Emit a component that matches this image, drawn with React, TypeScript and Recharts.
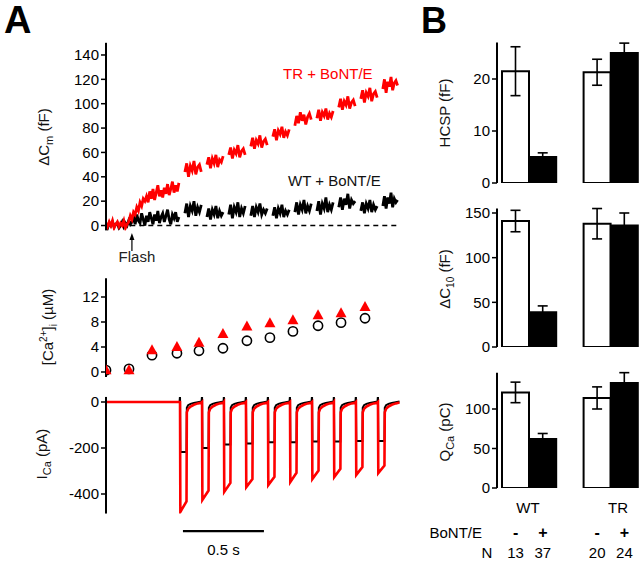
import React from "react";
import {
  ComposedChart,
  Line,
  Scatter,
  XAxis,
  YAxis,
  ReferenceLine,
  BarChart,
  Bar,
  Cell,
  ErrorBar,
} from "recharts";

const FONT = '"Liberation Sans", Arial, Helvetica, sans-serif';
const RED = "#ff0000";

// ---- panel A: shared time base (s) ----
const T_END = 1.815;
const pulseOnsets = [0.457, 0.593, 0.728, 0.864, 1.0, 1.136, 1.272, 1.407, 1.543, 1.679];
const flashTime = 0.16;
const CM_STEP = 0.01;
const CM_END = 1.805;

// ΔCm (fF), continuous record before the pulse train
const trCmPre = [
  2, -1, 3, 0, 4, -2, 1, 3, -1, 2, 0, 4, -2, 1,
  3, 8, 5, 11, 9, 15, 12, 19, 16, 22, 20,
  24, 19, 28, 22, 30, 21, 27, 33, 24, 29, 23, 31, 26, 34, 25, 30, 36, 27, 33, 28, 35,
];
const wtCmPre = [
  1, -2, 2, 0, 3, -1, 1, 2, -2, 0, 3, -1, 2, 0, 4, 1,
  3, 7, 1, 9, 4, 2, 10, 5, 0, 8, 3, 11, 6, 1, 9, 4, 12, 2, 7, 10, 3, 8, 13, 5, 1, 9, 6, 11, 3, 7,
];
// ΔCm between depolarizations
const trCmSegs = [
  [44, 51, 40, 49, 45, 53, 42, 48, 50, 44],
  [50, 56, 47, 55, 51, 58, 48, 54, 52, 57],
  [58, 64, 55, 62, 59, 66, 56, 61, 63, 58],
  [65, 72, 63, 70, 67, 74, 64, 69, 71, 66],
  [73, 79, 70, 78, 75, 81, 72, 77, 74, 79],
  [82, 90, 84, 93, 86, 91, 83, 89, 92, 87],
  [88, 95, 86, 93, 90, 96, 87, 92, 89, 94],
  [97, 104, 95, 102, 99, 106, 96, 101, 103, 98],
  [104, 111, 101, 109, 106, 113, 102, 108, 110, 105],
  [112, 120, 109, 118, 114, 122, 111, 117, 119, 115],
];
const wtCmSegs = [
  [10, 18, 7, 16, 12, 20, 8, 15, 11, 17],
  [7, 14, 5, 13, 9, 16, 6, 12, 8, 11],
  [9, 17, 6, 15, 11, 19, 7, 14, 10, 16],
  [8, 16, 7, 15, 11, 18, 9, 13, 10, 14],
  [8, 15, 6, 14, 10, 17, 7, 12, 9, 13],
  [11, 19, 9, 17, 13, 21, 10, 16, 12, 18],
  [12, 20, 9, 18, 14, 23, 11, 17, 13, 19],
  [15, 23, 13, 22, 17, 26, 14, 21, 18, 20],
  [12, 19, 10, 18, 14, 21, 11, 17, 13, 16],
  [16, 24, 14, 23, 18, 27, 15, 22, 19, 21],
];

// [Ca2+]i (µM)
const caTime = [0, 0.142, 0.284, 0.438, 0.574, 0.722, 0.87, 1.012, 1.154, 1.309, 1.451, 1.599];
const caTR = [0.3, 0.3, 3.5, 4.0, 4.7, 6.1, 7.3, 7.8, 8.3, 9.1, 9.4, 10.4];
const caWT = [0.3, 0.5, 2.7, 3.0, 3.4, 3.8, 5.0, 5.5, 6.5, 7.4, 7.9, 8.6];

// ICa (pA)
const icaPeakTR = [-478, -426, -391, -370, -361, -348, -335, -326, -317, -309];
const icaEndTR = [-432, -385, -352, -335, -325, -308, -298, -290, -283, -276];
const icaWT = [-217, -200, -185, -180, -175, -175, -172, -172, -170, -170];
const PULSE_DUR = 0.04;
const tailOffsets = [0.042, 0.05, 0.065, 0.085, 0.11, 0.133];
const icaTailTR = [-45, -30, -20, -12, -6, -2];
const icaTailWT = [-25, -14, -8, -4, -1, 2];
const icaSpikeWT = 28;

// ---- panel B ----
const conds = ["WT-", "WT+", "TR-", "TR+"];
const bont = ["-", "+", "-", "+"];
const nCells = [13, 37, 20, 24];
const hcspMean = [21.5, 5.0, 21.3, 25.0];
const hcspSem = [4.7, 0.8, 2.5, 1.9];
const dc10Mean = [141, 39, 138, 136];
const dc10Sem = [12, 7, 17, 14];
const qcaMean = [121, 62, 114, 133];
const qcaSem = [13, 7, 14, 13];

// ---- tables ----
type Row = { t: number; tr: number | null; wt: number | null };

const cmRows: Row[] = [];
trCmPre.forEach((v, i) => cmRows.push({ t: i * CM_STEP, tr: v, wt: wtCmPre[i] }));
pulseOnsets.forEach((t0, k) => {
  const start = t0 + 0.03;
  const end = (k + 1 < pulseOnsets.length ? pulseOnsets[k + 1] : CM_END) - 0.005;
  cmRows.push({ t: t0, tr: null, wt: null });
  const seg = trCmSegs[k];
  seg.forEach((v, j) =>
    cmRows.push({ t: start + (j * (end - start)) / (seg.length - 1), tr: v, wt: wtCmSegs[k][j] })
  );
});

const caRows = caTime.map((t, i) => ({ t, tr: caTR[i], wt: caWT[i] }));

const icaRows: Row[] = [
  { t: 0, tr: 0, wt: 0 },
  { t: pulseOnsets[0] - 0.003, tr: 0, wt: 0 },
];
pulseOnsets.forEach((t0, k) => {
  icaRows.push({ t: t0, tr: 0, wt: icaSpikeWT });
  icaRows.push({ t: t0 + 0.002, tr: icaPeakTR[k], wt: icaWT[k] });
  icaRows.push({ t: t0 + PULSE_DUR, tr: icaEndTR[k], wt: icaWT[k] });
  tailOffsets.forEach((o, j) => icaRows.push({ t: t0 + o, tr: icaTailTR[j], wt: icaTailWT[j] }));
});

function barRows(mean: number[], sem: number[]) {
  const r = conds.map((c, i) => ({ c, v: mean[i] as number | null, e: sem[i] as number | null, sign: bont[i] }));
  return [r[0], r[1], { c: " ", v: null, e: null, sign: "" }, r[2], r[3]];
}

// ---- shared axis styling ----
const tickStyle = { fontSize: 15, fill: "#000", fontFamily: FONT };
const axisLine = { stroke: "#000", strokeWidth: 2 };
const tickLine = { stroke: "#000", strokeWidth: 1.5 };

function FlashMarker(p: any) {
  const { x1, y1, y2 } = p;
  return (
    <g>
      <line x1={x1} y1={y1 + 3} x2={x1} y2={y2} stroke="#000" strokeWidth={1.2} />
      <polygon points={`${x1},${y1 - 1} ${x1 - 2.5},${y1 + 6} ${x1 + 2.5},${y1 + 6}`} fill="#000" />
      <text x={x1 + 5} y={y2 + 11} textAnchor="middle" fontSize={15} fill="#222">
        Flash
      </text>
    </g>
  );
}

function ScaleBar(p: any) {
  const { x1, y1, x2, y2 } = p;
  return (
    <g>
      <line x1={x1} y1={y1} x2={x2} y2={y2} stroke="#000" strokeWidth={2.2} />
      <text x={(x1 + x2) / 2} y={y1 + 24} textAnchor="middle" fontSize={15} fill="#000">
        0.5 s
      </text>
    </g>
  );
}

const Triangle = (p: any) => (
  <polygon
    points={`${p.cx},${p.cy - 6} ${p.cx - 5.5},${p.cy + 4} ${p.cx + 5.5},${p.cy + 4}`}
    fill={RED}
  />
);
const OpenCircle = (p: any) => (
  <circle cx={p.cx} cy={p.cy} r={4.6} fill="none" stroke="#000" strokeWidth={1.6} />
);

function CondTick(p: any) {
  const i = conds.indexOf(p.payload.value);
  if (i < 0) return <g />;
  return (
    <g>
      <text x={p.x} y={p.y + 50} textAnchor="middle" fontSize={16} fontWeight={700} fill="#000">
        {bont[i]}
      </text>
      <text x={p.x} y={p.y + 70} textAnchor="middle" fontSize={15} fill="#000">
        {nCells[i]}
      </text>
    </g>
  );
}

function BarPanel({
  mean,
  sem,
  domain,
  ticks,
  height,
  mt,
  withTicks,
}: {
  mean: number[];
  sem: number[];
  domain: [number, number];
  ticks: number[];
  height: number;
  mt: number;
  withTicks?: boolean;
}) {
  const data = barRows(mean, sem);
  return (
    <BarChart
      width={193}
      height={height}
      data={data}
      margin={{ top: mt, right: 0, bottom: withTicks ? 0 : 10, left: 0 }}
      barCategoryGap={0}
    >
      <XAxis
        dataKey="c"
        type="category"
        hide={!withTicks}
        height={withTicks ? 75 : 0}
        padding={{ left: 5, right: 2 }}
        axisLine={false}
        tickLine={false}
        tickSize={0}
        tickMargin={0}
        interval={0}
        tick={withTicks ? CondTick : false}
      />
      <YAxis
        width={50}
        domain={domain}
        ticks={ticks}
        interval={0}
        allowDataOverflow
        tickSize={5}
        tick={tickStyle}
        axisLine={axisLine}
        tickLine={tickLine}
      />
      <Bar dataKey="v" isAnimationActive={false}>
        {data.map((r, i) => (
          <Cell
            key={i}
            fill={r.sign === "+" ? "#000" : "#fff"}
            stroke={r.sign ? "#000" : "none"}
            strokeWidth={2}
          />
        ))}
        <ErrorBar dataKey="e" width={5} stroke="#000" strokeWidth={1.6} />
      </Bar>
    </BarChart>
  );
}

export default function App() {
  return (
    <div
      style={{
        position: "absolute",
        left: 0,
        top: 0,
        width: 640,
        height: 564,
        background: "#fff",
        fontFamily: FONT,
        overflow: "hidden",
      }}
    >
      {/* ΔCm */}
      <div style={{ position: "absolute", left: 56, top: 30 }}>
        <ComposedChart width={344} height={240.4} data={cmRows} margin={{ top: 12.8, right: 0, bottom: 40, left: 0 }}>
          <XAxis dataKey="t" type="number" domain={[0, T_END]} hide allowDataOverflow />
          <YAxis
            width={50}
            domain={[-4, 150]}
            ticks={[0, 20, 40, 60, 80, 100, 120, 140]}
            interval={0}
            allowDataOverflow
            tickSize={5}
            tick={tickStyle}
            axisLine={axisLine}
            tickLine={tickLine}
          />
          <ReferenceLine
            segment={[{ x: 0.15, y: 0 }, { x: 1.8, y: 0 }]}
            stroke="#000"
            strokeWidth={1.6}
            strokeDasharray="5 4"
          />
          <Line dataKey="wt" type="linear" stroke="#000" strokeWidth={2.8} dot={false} activeDot={false} isAnimationActive={false} />
          <Line dataKey="tr" type="linear" stroke={RED} strokeWidth={2.8} dot={false} activeDot={false} isAnimationActive={false} />
          <ReferenceLine
            segment={[{ x: flashTime, y: -7 }, { x: flashTime, y: -21 }]}
            ifOverflow="visible"
            shape={FlashMarker}
          />
        </ComposedChart>
      </div>

      {/* [Ca2+]i */}
      <div style={{ position: "absolute", left: 56, top: 270 }}>
        <ComposedChart width={344} height={110} data={caRows} margin={{ top: 8.25, right: 0, bottom: 3, left: 0 }}>
          <XAxis dataKey="t" type="number" domain={[0, T_END]} hide allowDataOverflow />
          <YAxis
            width={50}
            domain={[-0.8, 15]}
            ticks={[0, 4, 8, 12]}
            interval={0}
            allowDataOverflow
            tickSize={5}
            tick={tickStyle}
            axisLine={axisLine}
            tickLine={tickLine}
          />
          <Scatter dataKey="wt" shape={OpenCircle} isAnimationActive={false} />
          <Scatter dataKey="tr" shape={Triangle} isAnimationActive={false} />
        </ComposedChart>
      </div>

      {/* ICa */}
      <div style={{ position: "absolute", left: 56, top: 385 }}>
        <ComposedChart width={344} height={176.55} data={icaRows} margin={{ top: 11.94, right: 0, bottom: 48, left: 0 }}>
          <XAxis dataKey="t" type="number" domain={[0, T_END]} hide allowDataOverflow />
          <YAxis
            width={50}
            domain={[-485, 22]}
            ticks={[-400, -200, 0]}
            interval={0}
            allowDataOverflow
            tickSize={5}
            tick={tickStyle}
            axisLine={axisLine}
            tickLine={tickLine}
          />
          <Line dataKey="wt" type="linear" stroke="#000" strokeWidth={2} dot={false} activeDot={false} isAnimationActive={false} />
          <Line dataKey="tr" type="linear" stroke={RED} strokeWidth={2.6} dot={false} activeDot={false} isAnimationActive={false} />
          <ReferenceLine
            segment={[{ x: 0.475, y: -561 }, { x: 0.975, y: -561 }]}
            ifOverflow="visible"
            shape={ScaleBar}
          />
        </ComposedChart>
      </div>

      {/* panel B */}
      <div style={{ position: "absolute", left: 447, top: 35 }}>
        <BarPanel mean={hcspMean} sem={hcspSem} domain={[0, 27]} ticks={[0, 10, 20]} height={158} mt={7.6} />
      </div>
      <div style={{ position: "absolute", left: 447, top: 200 }}>
        <BarPanel mean={dc10Mean} sem={dc10Sem} domain={[0, 155]} ticks={[0, 50, 100, 150]} height={157} mt={8.53} />
      </div>
      <div style={{ position: "absolute", left: 447, top: 365 }}>
        <BarPanel mean={qcaMean} sem={qcaSem} domain={[0, 146]} ticks={[0, 50, 100]} height={198} mt={7.66} withTicks />
      </div>

      {/* labels */}
      <svg width={640} height={564} style={{ position: "absolute", left: 0, top: 0, pointerEvents: "none" }} fontFamily={FONT}>
        <text x={4} y={33} fontSize={38} fontWeight={700}>A</text>
        <text x={421} y={33} fontSize={36} fontWeight={700}>B</text>

        <text transform="translate(49,137) rotate(-90)" textAnchor="middle" fontSize={15} fill="#111">
          ΔC<tspan dy={4} fontSize={11}>m</tspan>
          <tspan dy={-4}> (fF)</tspan>
        </text>
        <text transform="translate(53,327) rotate(-90)" textAnchor="middle" fontSize={15} fill="#111">
          [Ca<tspan dy={-6} fontSize={10}>2+</tspan>
          <tspan dy={6}>]</tspan>
          <tspan dy={4} fontSize={10}>i</tspan>
          <tspan dy={-4}> (µM)</tspan>
        </text>
        <text transform="translate(47,454) rotate(-90)" textAnchor="middle" fontSize={15} fill="#111">
          I<tspan dy={4} fontSize={11}>Ca</tspan>
          <tspan dy={-4}> (pA)</tspan>
        </text>

        <text x={283} y={79} fontSize={15} fill={RED}>TR + BoNT/E</text>
        <text x={288} y={186} fontSize={15} fill="#111">WT + BoNT/E</text>

        <text transform="translate(450,113) rotate(-90)" textAnchor="middle" fontSize={15} fill="#111">
          HCSP (fF)
        </text>
        <text transform="translate(450,279) rotate(-90)" textAnchor="middle" fontSize={15} fill="#111">
          ΔC<tspan dy={4} fontSize={10}>10</tspan>
          <tspan dy={-4}> (fF)</tspan>
        </text>
        <text transform="translate(450,432) rotate(-90)" textAnchor="middle" fontSize={15} fill="#111">
          Q<tspan dy={4} fontSize={11}>Ca</tspan>
          <tspan dy={-4}> (pC)</tspan>
        </text>

        <text x={528} y={513} textAnchor="middle" fontSize={15}>WT</text>
        <text x={618} y={513} textAnchor="middle" fontSize={15}>TR</text>
        <text x={482} y={538} textAnchor="end" fontSize={15}>BoNT/E</text>
        <text x={487} y={558} textAnchor="middle" fontSize={15}>N</text>
      </svg>
    </div>
  );
}
